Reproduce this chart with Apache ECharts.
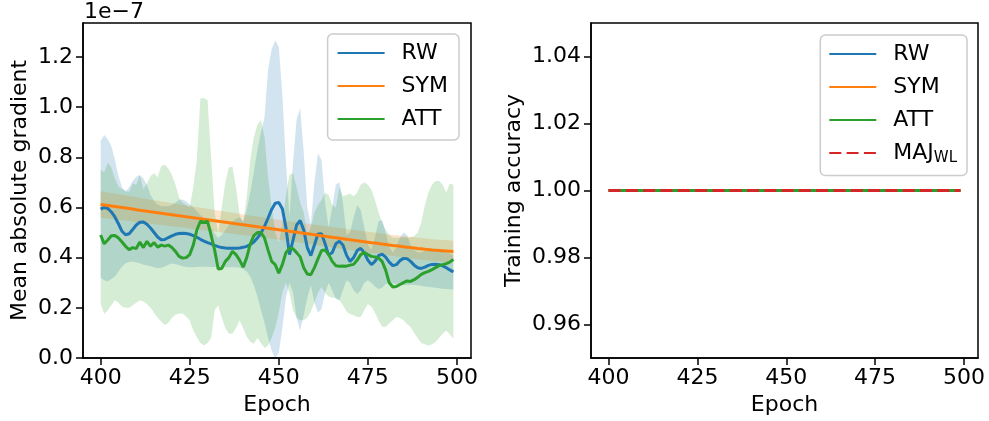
<!DOCTYPE html>
<html>
<head>
<meta charset="utf-8">
<script src="https://cdn.jsdelivr.net/npm/echarts@6/dist/echarts.min.js"></script>
<style>
html,body{margin:0;padding:0;background:#fff;}
#chart{width:989px;height:421px;}
</style>
</head>
<body>
<div id="chart"></div>
<script>
// Epochs 400..499 (index i -> epoch EPOCH_START + i)
const EPOCH_START = 400;
const X_TICKS = [400, 425, 450, 475, 500];
const Y1_TICKS = [0.0, 0.2, 0.4, 0.6, 0.8, 1.0, 1.2];      // x 1e-7
const Y2_TICKS = [0.96, 0.98, 1.00, 1.02, 1.04];

// Left panel: mean absolute gradient (units of 1e-7)
const RW_MEAN = [
 0.593,0.600,0.596,0.582,0.562,0.535,0.505,0.491,0.495,0.512,
 0.530,0.541,0.542,0.533,0.518,0.500,0.482,0.471,0.472,0.480,
 0.487,0.493,0.496,0.497,0.496,0.493,0.488,0.481,0.473,0.466,
 0.460,0.455,0.449,0.444,0.440,0.438,0.437,0.437,0.437,0.438,
 0.441,0.445,0.452,0.462,0.478,0.498,0.525,0.558,0.592,0.617,
 0.620,0.595,0.520,0.412,0.470,0.530,0.548,0.510,0.440,0.408,
 0.450,0.494,0.495,0.455,0.410,0.420,0.455,0.465,0.450,0.410,
 0.385,0.400,0.428,0.437,0.420,0.390,0.372,0.385,0.408,0.414,
 0.402,0.382,0.368,0.372,0.388,0.397,0.396,0.385,0.370,0.360,
 0.357,0.362,0.369,0.373,0.374,0.372,0.367,0.360,0.351,0.343];
const RW_HI = [
 0.865,0.889,0.872,0.845,0.790,0.725,0.680,0.665,0.680,0.705,
 0.722,0.729,0.715,0.690,0.650,0.625,0.612,0.605,0.605,0.605,
 0.610,0.620,0.630,0.632,0.625,0.612,0.600,0.585,0.570,0.555,
 0.540,0.520,0.495,0.478,0.490,0.510,0.530,0.545,0.555,0.560,
 0.545,0.590,0.660,0.740,0.830,0.900,0.960,1.150,1.230,1.265,
 1.240,1.050,0.780,0.560,0.780,0.950,0.995,0.820,0.600,0.530,
 0.700,0.815,0.790,0.620,0.520,0.600,0.690,0.700,0.620,0.490,
 0.500,0.560,0.610,0.590,0.520,0.450,0.430,0.480,0.545,0.550,
 0.500,0.440,0.420,0.440,0.480,0.500,0.490,0.450,0.430,0.420,
 0.420,0.425,0.430,0.435,0.435,0.430,0.425,0.420,0.415,0.410];
const RW_LO = [
 0.320,0.310,0.305,0.315,0.325,0.345,0.365,0.378,0.383,0.385,
 0.382,0.378,0.372,0.370,0.366,0.362,0.358,0.360,0.365,0.372,
 0.377,0.375,0.370,0.366,0.363,0.362,0.362,0.363,0.364,0.364,
 0.364,0.363,0.363,0.363,0.362,0.362,0.362,0.362,0.362,0.360,
 0.355,0.345,0.325,0.290,0.245,0.190,0.140,0.080,0.030,0.000,
 0.020,0.120,0.240,0.300,0.260,0.160,0.110,0.170,0.240,0.290,
 0.220,0.180,0.195,0.260,0.300,0.270,0.235,0.230,0.270,0.310,
 0.300,0.270,0.255,0.270,0.300,0.310,0.300,0.285,0.275,0.280,
 0.295,0.300,0.298,0.295,0.292,0.290,0.290,0.292,0.292,0.290,
 0.288,0.285,0.283,0.282,0.280,0.278,0.276,0.275,0.274,0.273];

const SYM_MEAN = [
 0.612,0.610,0.608,0.606,0.604,0.602,0.600,0.598,0.596,0.594,
 0.591,0.589,0.587,0.585,0.583,0.581,0.579,0.577,0.575,0.573,
 0.571,0.569,0.567,0.565,0.563,0.561,0.559,0.557,0.555,0.553,
 0.551,0.549,0.547,0.545,0.543,0.541,0.539,0.537,0.535,0.533,
 0.531,0.529,0.527,0.525,0.523,0.521,0.519,0.517,0.515,0.513,
 0.511,0.509,0.507,0.505,0.503,0.501,0.499,0.497,0.495,0.493,
 0.491,0.489,0.487,0.485,0.483,0.481,0.479,0.477,0.475,0.473,
 0.471,0.469,0.467,0.465,0.463,0.461,0.459,0.458,0.456,0.454,
 0.452,0.450,0.448,0.447,0.445,0.443,0.441,0.440,0.438,0.436,
 0.435,0.433,0.432,0.430,0.429,0.428,0.427,0.426,0.425,0.424];
const SYM_ERR = [
 0.053,0.053,0.052,0.052,0.052,0.051,0.051,0.051,0.050,0.050,
 0.050,0.049,0.049,0.049,0.048,0.048,0.048,0.047,0.047,0.047,
 0.046,0.046,0.046,0.045,0.045,0.045,0.045,0.044,0.044,0.044,
 0.044,0.043,0.043,0.043,0.043,0.042,0.042,0.042,0.042,0.042,
 0.041,0.041,0.041,0.041,0.041,0.041,0.040,0.040,0.040,0.040,
 0.040,0.040,0.040,0.040,0.040,0.040,0.040,0.040,0.040,0.040,
 0.040,0.041,0.041,0.041,0.041,0.041,0.041,0.041,0.041,0.041,
 0.041,0.041,0.042,0.042,0.042,0.042,0.042,0.042,0.042,0.042,
 0.042,0.042,0.042,0.043,0.043,0.043,0.043,0.043,0.043,0.043,
 0.043,0.043,0.043,0.043,0.043,0.043,0.043,0.043,0.043,0.043];

const ATT_MEAN = [
 0.490,0.455,0.470,0.487,0.488,0.478,0.462,0.445,0.432,0.440,
 0.436,0.462,0.440,0.465,0.445,0.460,0.442,0.450,0.446,0.450,
 0.440,0.425,0.405,0.398,0.400,0.412,0.450,0.510,0.545,0.540,
 0.545,0.490,0.430,0.355,0.357,0.385,0.400,0.425,0.412,0.390,
 0.362,0.400,0.455,0.488,0.500,0.500,0.478,0.430,0.385,0.372,
 0.338,0.372,0.420,0.437,0.435,0.420,0.403,0.360,0.335,0.332,
 0.360,0.395,0.428,0.430,0.412,0.385,0.368,0.366,0.367,0.366,
 0.370,0.373,0.390,0.412,0.420,0.412,0.405,0.403,0.398,0.385,
 0.350,0.300,0.283,0.285,0.293,0.300,0.307,0.305,0.312,0.322,
 0.333,0.340,0.345,0.352,0.360,0.368,0.372,0.376,0.382,0.393];
const ATT_HI = [
 0.750,0.740,0.778,0.760,0.715,0.683,0.672,0.665,0.662,0.695,
 0.690,0.728,0.672,0.695,0.725,0.736,0.720,0.765,0.770,0.755,
 0.730,0.690,0.640,0.620,0.610,0.600,0.680,0.790,1.035,1.035,
 1.028,0.800,0.580,0.496,0.600,0.700,0.760,0.762,0.680,0.570,
 0.540,0.640,0.790,0.880,0.930,0.948,0.880,0.720,0.600,0.500,
 0.460,0.530,0.650,0.730,0.736,0.680,0.620,0.580,0.490,0.520,
 0.580,0.610,0.630,0.660,0.650,0.610,0.600,0.680,0.645,0.650,
 0.656,0.645,0.660,0.690,0.700,0.690,0.670,0.630,0.580,0.540,
 0.510,0.490,0.480,0.480,0.480,0.480,0.480,0.480,0.485,0.500,
 0.540,0.610,0.660,0.690,0.705,0.705,0.690,0.660,0.695,0.690];
const ATT_LO = [
 0.217,0.175,0.190,0.210,0.230,0.220,0.205,0.200,0.200,0.210,
 0.220,0.230,0.225,0.215,0.200,0.180,0.160,0.145,0.132,0.140,
 0.160,0.172,0.177,0.177,0.165,0.150,0.110,0.084,0.060,0.050,
 0.060,0.080,0.190,0.210,0.160,0.120,0.097,0.097,0.120,0.150,
 0.120,0.085,0.065,0.057,0.080,0.060,0.040,0.050,0.080,0.120,
 0.180,0.260,0.300,0.260,0.190,0.160,0.150,0.150,0.160,0.185,
 0.220,0.260,0.283,0.260,0.245,0.240,0.240,0.230,0.210,0.185,
 0.175,0.170,0.163,0.163,0.190,0.215,0.205,0.180,0.150,0.125,
 0.125,0.137,0.150,0.163,0.160,0.150,0.135,0.124,0.100,0.080,
 0.060,0.055,0.050,0.055,0.064,0.080,0.097,0.110,0.095,0.077];

// Right panel: training accuracy (all runs at 1.0)
const ACC_RW = [
 1,1,1,1,1,1,1,1,1,1, 1,1,1,1,1,1,1,1,1,1, 1,1,1,1,1,1,1,1,1,1, 1,1,1,1,1,1,1,1,1,1, 1,1,1,1,1,1,1,1,1,1,
 1,1,1,1,1,1,1,1,1,1, 1,1,1,1,1,1,1,1,1,1, 1,1,1,1,1,1,1,1,1,1, 1,1,1,1,1,1,1,1,1,1, 1,1,1,1,1,1,1,1,1,1];
const ACC_SYM = [
 1,1,1,1,1,1,1,1,1,1, 1,1,1,1,1,1,1,1,1,1, 1,1,1,1,1,1,1,1,1,1, 1,1,1,1,1,1,1,1,1,1, 1,1,1,1,1,1,1,1,1,1,
 1,1,1,1,1,1,1,1,1,1, 1,1,1,1,1,1,1,1,1,1, 1,1,1,1,1,1,1,1,1,1, 1,1,1,1,1,1,1,1,1,1, 1,1,1,1,1,1,1,1,1,1];
const ACC_ATT = [
 1,1,1,1,1,1,1,1,1,1, 1,1,1,1,1,1,1,1,1,1, 1,1,1,1,1,1,1,1,1,1, 1,1,1,1,1,1,1,1,1,1, 1,1,1,1,1,1,1,1,1,1,
 1,1,1,1,1,1,1,1,1,1, 1,1,1,1,1,1,1,1,1,1, 1,1,1,1,1,1,1,1,1,1, 1,1,1,1,1,1,1,1,1,1, 1,1,1,1,1,1,1,1,1,1];
const ACC_MAJ_WL = [
 1,1,1,1,1,1,1,1,1,1, 1,1,1,1,1,1,1,1,1,1, 1,1,1,1,1,1,1,1,1,1, 1,1,1,1,1,1,1,1,1,1, 1,1,1,1,1,1,1,1,1,1,
 1,1,1,1,1,1,1,1,1,1, 1,1,1,1,1,1,1,1,1,1, 1,1,1,1,1,1,1,1,1,1, 1,1,1,1,1,1,1,1,1,1, 1,1,1,1,1,1,1,1,1,1];

const C_RW = '#1f77b4', C_SYM = '#ff7f0e', C_ATT = '#2ca02c', C_MAJ = '#d62728';
const FONT = 'DejaVu Sans';

const pts = arr => arr.map((v, i) => [EPOCH_START + i, v]);

function xAxis(gi) {
  return {
    type: 'value', gridIndex: gi, min: 395.05, max: 503.95,
    axisLine: { show: true, onZero: false, lineStyle: { color: '#000', width: 1.5 } },
    axisTick: { show: true, length: 7, lineStyle: { color: '#000', width: 1.5 }, customValues: X_TICKS },
    axisLabel: { customValues: X_TICKS, margin: 9, fontSize: 22, color: '#000', fontFamily: FONT },
    splitLine: { show: false },
    name: 'Epoch', nameLocation: 'middle', nameGap: 35,
    nameTextStyle: { fontSize: 22, color: '#000', fontFamily: FONT }
  };
}
function yAxis(gi, min, max, ticks, dec, name, gap) {
  return {
    type: 'value', gridIndex: gi, min: min, max: max,
    axisLine: { show: true, onZero: false, lineStyle: { color: '#000', width: 1.5 } },
    axisTick: { show: true, length: 7, lineStyle: { color: '#000', width: 1.5 }, customValues: ticks },
    axisLabel: { customValues: ticks, margin: 10, fontSize: 22, color: '#000', fontFamily: FONT,
                 formatter: v => v.toFixed(dec) },
    splitLine: { show: false },
    name: name, nameLocation: 'middle', nameGap: gap,
    nameTextStyle: { fontSize: 22, color: '#000', fontFamily: FONT }
  };
}
// Shaded band between lo and hi, drawn as one polygon through the axis scales
function band(name, lo, hi, color) {
  const rows = lo.map((v, i) => [EPOCH_START + i, v, hi[i]]);
  return {
    name: name + ' band', type: 'custom', xAxisIndex: 0, yAxisIndex: 0, z: 2, silent: true,
    data: rows, encode: { x: 0, y: [1, 2] }, clip: true,
    renderItem: (params, api) => {
      if (params.dataIndex !== 0) return null;
      const up = rows.map(r => api.coord([r[0], r[2]]));
      const dn = rows.slice().reverse().map(r => api.coord([r[0], r[1]]));
      return { type: 'polygon', shape: { points: up.concat(dn) },
               style: { fill: color, opacity: 0.2, stroke: null } };
    }
  };
}
function line(name, data, color, xi, extra) {
  return Object.assign({
    name: name, type: 'line', xAxisIndex: xi, yAxisIndex: xi, data: pts(data),
    symbol: 'none', showSymbol: false, lineStyle: { width: 3, color: color }, itemStyle: { color: color },
    z: 3, emphasis: { disabled: true }
  }, extra || {});
}

const SYM_LO = SYM_MEAN.map((v, i) => v - SYM_ERR[i]);
const SYM_HI = SYM_MEAN.map((v, i) => v + SYM_ERR[i]);

const legendBase = {
  orient: 'vertical', itemWidth: 47, itemHeight: 14, itemGap: 11,
  backgroundColor: 'rgba(255,255,255,0.8)', borderColor: '#cccccc', borderWidth: 1.5, borderRadius: 5,
  selectedMode: false,
  itemStyle: { opacity: 0 },
  textStyle: { fontSize: 22, color: '#000', fontFamily: FONT, padding: [0, 0, 0, 12] }
};

const chart = echarts.init(document.getElementById('chart'), null, { renderer: 'canvas' });
chart.setOption({
  animation: false,
  backgroundColor: '#fff',
  grid: [
    { left: 83, top: 23, width: 388, height: 335, show: true, borderColor: '#000', borderWidth: 1.5, backgroundColor: 'transparent' },
    { left: 591, top: 23, width: 387, height: 335, show: true, borderColor: '#000', borderWidth: 1.5, backgroundColor: 'transparent' }
  ],
  xAxis: [xAxis(0), xAxis(1)],
  yAxis: [
    yAxis(0, 0, 1.335, Y1_TICKS, 1, 'Mean absolute gradient', 52),
    yAxis(1, 0.95, 1.05, Y2_TICKS, 2, 'Training accuracy', 66)
  ],
  legend: [
    Object.assign({}, legendBase, { data: ['RW', 'SYM', 'ATT'], right: 530, top: 34, padding: [8, 11, 10, 9] }),
    Object.assign({}, legendBase, { data: ['RW', 'SYM', 'ATT', 'MAJ_WL'], right: 22, top: 35, padding: [8, 10, 10, 8],
      formatter: n => n === 'MAJ_WL' ? '{m|MAJ}{s|WL}' : n,
      textStyle: Object.assign({}, legendBase.textStyle, {
        rich: { m: { fontSize: 22, fontFamily: FONT, color: '#000' },
                s: { fontSize: 15, fontFamily: FONT, color: '#000', padding: [10, 0, 0, 0] } } }) })
  ],
  graphic: [
    { type: 'text', left: 84, top: 1, style: { text: '1e\u22127', fontSize: 22, fontFamily: FONT, fill: '#000' } }
  ],
  series: [
    band('RW', RW_LO, RW_HI, C_RW),
    band('SYM', SYM_LO, SYM_HI, C_SYM),
    band('ATT', ATT_LO, ATT_HI, C_ATT),
    line('RW', RW_MEAN, C_RW, 0),
    line('SYM', SYM_MEAN, C_SYM, 0),
    line('ATT', ATT_MEAN, C_ATT, 0),
    line('RW', ACC_RW, C_RW, 1),
    line('SYM', ACC_SYM, C_SYM, 1),
    line('ATT', ACC_ATT, C_ATT, 1),
    line('MAJ_WL', ACC_MAJ_WL, C_MAJ, 1, { lineStyle: { width: 3, color: C_MAJ, type: [12, 5.3] } })
  ]
});
</script>
</body>
</html>
